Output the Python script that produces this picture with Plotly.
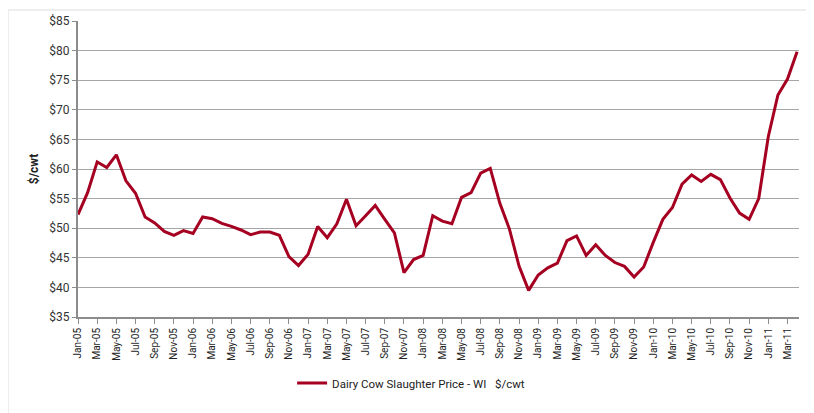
import plotly.graph_objects as go

months = ["Jan", "Feb", "Mar", "Apr", "May", "Jun", "Jul", "Aug", "Sep", "Oct", "Nov", "Dec"]
years = ["05", "06", "07", "08", "09", "10", "11"]
categories = [f"{m}-{y}" for y in years for m in months][:76]  # Jan-05 .. Apr-11

price = [
    52.3, 56.0, 61.2, 60.25, 62.4, 58.0, 55.9, 51.9, 50.9, 49.45, 48.8, 49.6,   # 2005
    49.1, 51.9, 51.6, 50.8, 50.3, 49.7, 48.9, 49.35, 49.35, 48.8, 45.2, 43.7,   # 2006
    45.6, 50.3, 48.4, 50.75, 54.9, 50.4, 52.1, 53.85, 51.5, 49.2, 42.5, 44.7,   # 2007
    45.4, 52.1, 51.2, 50.75, 55.2, 56.0, 59.3, 60.1, 54.2, 49.85, 43.6, 39.5,   # 2008
    42.1, 43.3, 44.1, 47.9, 48.7, 45.4, 47.2, 45.4, 44.2, 43.55, 41.75, 43.45,  # 2009
    47.6, 51.5, 53.5, 57.45, 59.0, 57.9, 59.1, 58.2, 55.1, 52.55, 51.5, 55.0,   # 2010
    65.5, 72.5, 75.2, 79.8,                                                     # 2011
]

y_ticks = [35, 40, 45, 50, 55, 60, 65, 70, 75, 80, 85]
y_tick_text = [f"${v}" for v in y_ticks]
x_tick_labels = categories[::2]

series_name = "Dairy Cow Slaughter Price - WI   $/cwt"
y_title = "$/cwt"

FONT = "Roboto, sans-serif"

fig = go.Figure()
fig.add_trace(go.Scatter(
    x=categories, y=price, mode="lines", name=series_name,
    line=dict(color="#a50021", width=3),
    showlegend=True,
))

fig.update_layout(
    width=814, height=413,
    margin=dict(l=70, r=23, t=13, b=104),
    paper_bgcolor="white", plot_bgcolor="white",
    font=dict(family=FONT, size=11, color="#333333"),
    showlegend=True,
    legend=dict(orientation="h", x=0.462, xanchor="center", y=-0.223, yanchor="middle",
                font=dict(family=FONT, size=11.5, color="#222222"), bgcolor="rgba(0,0,0,0)"),
    xaxis=dict(
        type="category", range=[0, 75.2], automargin=False,
        tickmode="array", tickvals=x_tick_labels, ticktext=x_tick_labels,
        tickangle=-90, ticks="outside", ticklen=5, tickcolor="#8c8c8c",
        showline=True, linecolor="#8c8c8c", linewidth=2,
        showgrid=False, zeroline=False,
        tickfont=dict(family=FONT, size=10, color="#222222"),
    ),
    yaxis=dict(
        range=[35, 85], tickmode="array", tickvals=y_ticks, ticktext=y_tick_text,
        automargin=False,
        ticks="outside", ticklen=4, tickcolor="#8c8c8c",
        showline=True, linecolor="#8c8c8c", linewidth=2,
        showgrid=True, gridcolor="#a6a6a6", gridwidth=1, zeroline=False,
        tickfont=dict(family=FONT, size=12, color="#333333"),
        title=dict(text=f"<b>{y_title}</b>", font=dict(family=FONT, size=12, color="#222222"), standoff=8),
    ),
    shapes=[dict(type="rect", xref="paper", yref="paper", x0=-0.097, x1=1.011, y0=-0.36, y1=1.037,
                 line=dict(color="#eeeeee", width=2), layer="below")],
)

fig.write_html("out.html")
